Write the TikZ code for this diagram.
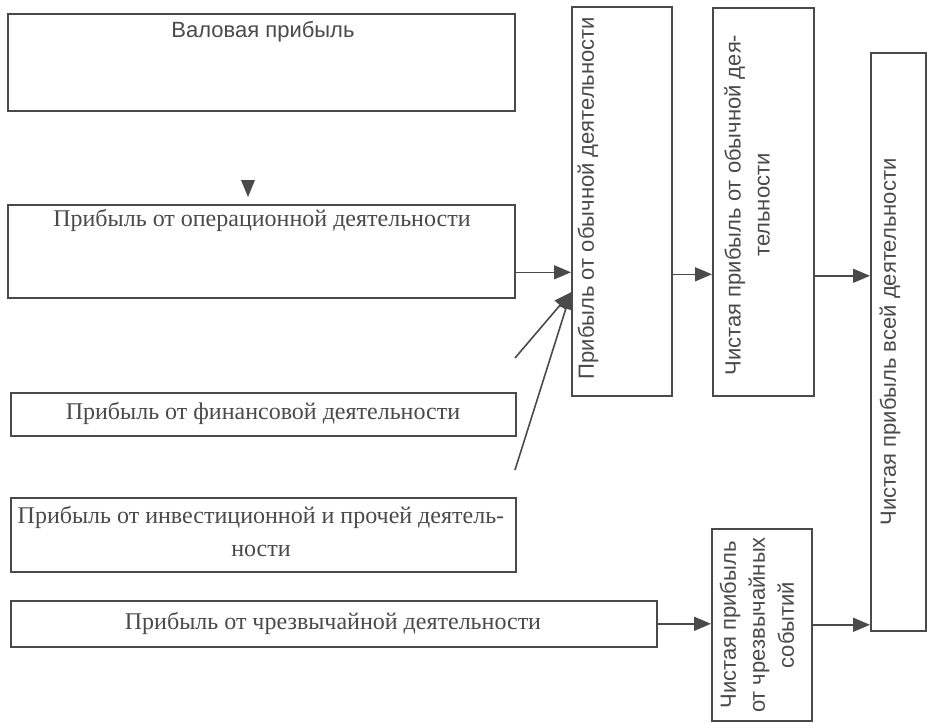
\documentclass[tikz,border=0pt]{standalone}
\usepackage{fontspec}
\setmainfont{Liberation Serif}
\newfontfamily\sansf{Liberation Sans}
\usetikzlibrary{arrows.meta}
\definecolor{ink}{HTML}{4A4A4A}

\begin{document}
\begin{tikzpicture}[x=1pt, y=-1pt,
    box/.style={draw=ink, line width=1.6pt, anchor=north west, inner sep=0pt},
    htxt/.style={text=ink, align=center, font=\fontsize{24}{33}\selectfont},
    stxt/.style={text=ink, align=center, font=\sansf\fontsize{22}{29}\selectfont},
    vtxt/.style={stxt, rotate=90},
    arr/.style={draw=ink, line width=1.6pt, -{Triangle[length=17pt, width=14pt]}}]

  \fill[white] (0,0) rectangle (927,723);
  \useasboundingbox (0,0) rectangle (927,723);

  % left column
  \node[box, minimum width=507pt, minimum height=97pt] (val) at (7,13) {};
  \node[box, minimum width=507pt, minimum height=93pt] (op) at (7,204) {};
  \node[box, minimum width=505pt, minimum height=43pt] (fin) at (10,392) {};
  \node[box, minimum width=505pt, minimum height=74pt] (inv) at (10,497) {};
  \node[box, minimum width=646pt, minimum height=46pt] (chr) at (10,600) {};

  \node[stxt] (valt) at (263,32) {Валовая прибыль};
  \node[htxt] (opt) at (262,220) {Прибыль от операционной деятельности};
  \node[htxt] (fint) at (263,413) {Прибыль от финансовой деятельности};
  \node[htxt] (invt) at (261,532) {Прибыль от инвестиционной и прочей деятель-\\ности};
  \node[htxt] (chrt) at (333,623) {Прибыль от чрезвычайной деятельности};

  % right columns
  \node[box, minimum width=100pt, minimum height=389pt] (obych) at (571,6) {};
  \node[box, minimum width=101pt, minimum height=388pt] (chist) at (712,7) {};
  \node[box, minimum width=55pt, minimum height=578pt] (whole) at (870,52) {};
  \node[box, minimum width=100pt, minimum height=192pt] (chs) at (711,528) {};

  \node[vtxt] (obycht) at (588,198) {Прибыль от обычной деятельности};
  \node[vtxt] (chistt) at (747,205) {Чистая прибыль от обычной дея-\\тельности};
  \node[vtxt] (wholet) at (890,342) {Чистая прибыль всей деятельности};
  \node[vtxt] (chst) at (757,625) {Чистая прибыль\\от чрезвычайных\\событий};

  % arrows
  \coordinate (tip) at (248,197);
  \fill[ink] (tip) -- ++(-7,-17) -- ++(14,0) -- cycle;

  \coordinate (finend) at (515,358);
  \coordinate (invend) at (515,470);
  \coordinate (meet) at ([yshift=-91pt]obych.west);

  \draw[arr] ([yshift=-21pt]op.east) -- ([yshift=-21pt]op.east -| obych.west);
  \draw[arr] (finend) -- (meet);
  \draw[arr] (invend) -- (meet);
  \draw[arr] ([yshift=-73pt]obych.east) -- ([yshift=-73pt]obych.east -| chist.west);
  \draw[arr] ([yshift=-74pt]chist.east) -- ([yshift=-74pt]chist.east -| whole.west);
  \draw[arr] (chr.east) -- (chr.east -| chs.west);
  \draw[arr] (chs.east) -- (chs.east -| whole.west);

\end{tikzpicture}
\end{document}
